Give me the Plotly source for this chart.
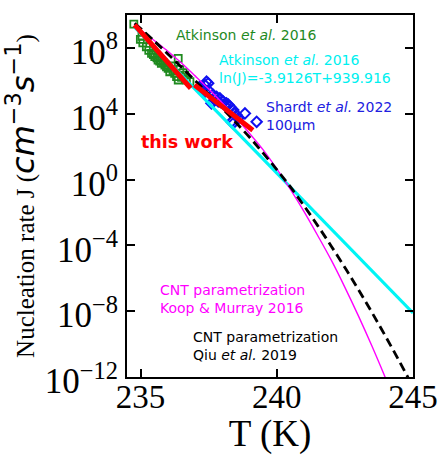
import numpy as np
import plotly.graph_objects as go

# Atkinson et al. 2016 measurements (T in K, log10 J with J in cm^-3 s^-1)
atk_T = [234.75, 234.99, 235.05, 235.08, 235.21, 235.30, 235.40, 235.47, 235.52, 235.60,
         235.64, 235.70, 235.76, 235.83, 235.89, 235.95, 236.01, 236.07, 236.13, 236.19,
         236.25, 236.32, 236.38, 236.38, 236.44, 236.50, 236.56, 236.62, 236.68, 236.81]
atk_logJ = [9.45, 8.52, 8.70, 8.30, 8.07, 7.85, 7.67, 7.60, 7.47, 7.40,
            7.26, 7.20, 7.06, 7.10, 6.96, 6.85, 6.76, 6.55, 6.90, 6.61,
            6.45, 6.25, 6.05, 7.37, 6.70, 6.21, 6.50, 6.35, 6.05, 5.95]

# Shardt et al. 2022, 100 um droplets
sha_T = [237.17, 237.24, 237.36, 237.36, 237.42, 237.48, 237.54, 237.60, 237.66, 237.72,
         237.79, 237.91, 238.03, 238.15, 238.28, 238.34, 238.40, 238.40, 238.46, 238.52,
         238.58, 238.83, 239.26, 237.30, 238.22, 237.85, 238.10]
sha_logJ = [5.64, 5.44, 5.74, 5.34, 5.95, 5.85, 5.34, 4.63, 5.14, 4.83,
            5.03, 4.94, 4.73, 4.63, 4.43, 3.51, 4.23, 3.42, 4.02, 3.92,
            3.72, 4.02, 3.51, 5.55, 4.55, 4.75, 4.50]

# this work: two linear fits of log10 J against T
fit1_T = [234.78, 236.84]
fit1_logJ = [9.40, 5.55]
fit2_T = [236.98, 239.12]
fit2_logJ = [5.75, 3.00]

# Atkinson et al. 2016 fit: ln(J) = a*T + b
atk_fit_a = -3.9126
atk_fit_b = 939.916
atk_fit_T = [234.78, 245.0]

# CNT parametrization, Koop & Murray 2016
koop_T = [234.85, 235.5, 236.0, 236.5, 237.0, 237.5, 238.0, 238.5, 239.0, 239.5,
          240.0, 240.5, 241.0, 241.5, 242.0, 242.5, 243.0, 243.5, 244.0, 244.2]
koop_logJ = [9.29, 8.45, 7.80, 7.08, 6.30, 5.50, 4.65, 3.75, 2.80, 1.80,
             0.65, -0.60, -1.95, -3.40, -4.90, -6.55, -8.30, -10.15, -12.10, -12.9]

# CNT parametrization, Qiu et al. 2019
qiu_T = [234.78, 235.5, 236.0, 236.5, 237.0, 237.5, 238.0, 238.5, 239.0, 239.5,
         240.0, 240.5, 241.0, 241.5, 242.0, 242.5, 243.0, 243.5, 244.0, 244.5, 245.0]
qiu_logJ = [9.50, 8.42, 7.63, 6.83, 6.01, 5.18, 4.33, 3.46, 2.57, 1.60,
            0.60, -0.45, -1.60, -2.80, -4.05, -5.35, -6.70, -8.10, -9.55, -11.05, -12.60]

y_tickvals = [1e-12, 1e-8, 1e-4, 1e0, 1e4, 1e8]
y_ticktext = ["10<sup>\u221212</sup>", "10<sup>\u22128</sup>", "10<sup>\u22124</sup>",
              "10<sup>0</sup>", "10<sup>4</sup>", "10<sup>8</sup>"]
x_tickvals = [235, 240, 245]


def pow10(v):
    return [10.0 ** a for a in v]


fig = go.Figure()

fig.add_trace(go.Scatter(
    x=atk_T, y=pow10(atk_logJ), mode="markers",
    marker=dict(symbol="square-open", size=7, color="#1f8a1f", line=dict(width=1.8)),
    showlegend=False))

fig.add_trace(go.Scatter(
    x=sha_T, y=pow10(sha_logJ), mode="markers",
    marker=dict(symbol="diamond-open", size=8, color="#1010f0", line=dict(width=2)),
    showlegend=False))

fit_T = np.array(atk_fit_T)
fig.add_trace(go.Scatter(
    x=fit_T, y=np.exp(atk_fit_a * fit_T + atk_fit_b), mode="lines",
    line=dict(color="#00f5f5", width=3.2), showlegend=False))

fig.add_trace(go.Scatter(
    x=koop_T, y=pow10(koop_logJ), mode="lines", line_shape="spline",
    line=dict(color="#ff00ff", width=1.4), showlegend=False))

fig.add_trace(go.Scatter(
    x=qiu_T, y=pow10(qiu_logJ), mode="lines", line_shape="spline",
    line=dict(color="black", width=2.8, dash="9px,5px"), showlegend=False))

for tt, ll in ((fit1_T, fit1_logJ), (fit2_T, fit2_logJ)):
    fig.add_trace(go.Scatter(
        x=tt, y=pow10(ll), mode="lines",
        line=dict(color="#ff0000", width=5), showlegend=False))

ann_font = "DejaVu Sans"
L, R, T, B = 127.3, 412.7, 15.0, 377.0


def px(xp):
    return (xp - L) / (R - L)


def py(yp):
    return (B - yp) / (B - T)


annotations = [
    dict(text="Atkinson <i>et al.</i> 2016", x=px(174), y=py(35), color="#1f8a1f", size=14),
    dict(text="Atkinson <i>et al.</i> 2016<br>ln(J)=-3.9126T+939.916", x=px(217), y=py(69),
         color="#00f0f0", size=14),
    dict(text="Shardt <i>et al.</i> 2022<br>100\u03bcm", x=px(264), y=py(116.5),
         color="#2020e0", size=14),
    dict(text="<b>this work</b>", x=px(139), y=py(142), color="#ff0000", size=17.5),
    dict(text="CNT parametrization<br>Koop &amp; Murray 2016", x=px(158), y=py(299),
         color="#ff00ff", size=14),
    dict(text="CNT parametrization<br>Qiu <i>et al.</i> 2019", x=px(191), y=py(346),
         color="black", size=14),
]
for a in annotations:
    fig.add_annotation(
        text=a["text"], x=a["x"], y=a["y"], xref="paper", yref="paper",
        xanchor="left", yanchor="middle", align="left", showarrow=False,
        font=dict(family=ann_font, size=a["size"], color=a["color"]))

axis_common = dict(
    showgrid=False, zeroline=False, showline=True, linecolor="black", linewidth=2,
    mirror="ticks", ticks="inside", ticklen=8, tickwidth=2, tickcolor="black",
    automargin=False,
)

fig.update_layout(
    width=442, height=455,
    margin=dict(l=127, r=29, t=15, b=78),
    paper_bgcolor="white", plot_bgcolor="white",
    xaxis=dict(
        range=[234.5, 245.0], tickvals=x_tickvals,
        ticktext=[str(v) for v in x_tickvals],
        tickfont=dict(family="Liberation Serif", size=33, color="black"),
        ticklabelstandoff=-11,
        title=dict(text="T (K)", font=dict(family="Liberation Serif", size=37, color="black"),
                   standoff=6),
        **axis_common),
    yaxis=dict(
        type="log", range=[-12, 10], tickvals=y_tickvals, ticktext=y_ticktext,
        tickfont=dict(family="Liberation Serif", size=35, color="black"),
        ticklabelshift=4,
        title=dict(
            text="Nucleation rate J (<span style=\"font-family:'DejaVu Sans';font-size:32px\">"
                 "<i>cm</i><sup>\u22123</sup><i>s</i><sup>\u22121</sup></span>)",
            font=dict(family="Liberation Serif", size=25, color="black"),
            standoff=4),
        **axis_common),
)

fig.write_html("out.html")
